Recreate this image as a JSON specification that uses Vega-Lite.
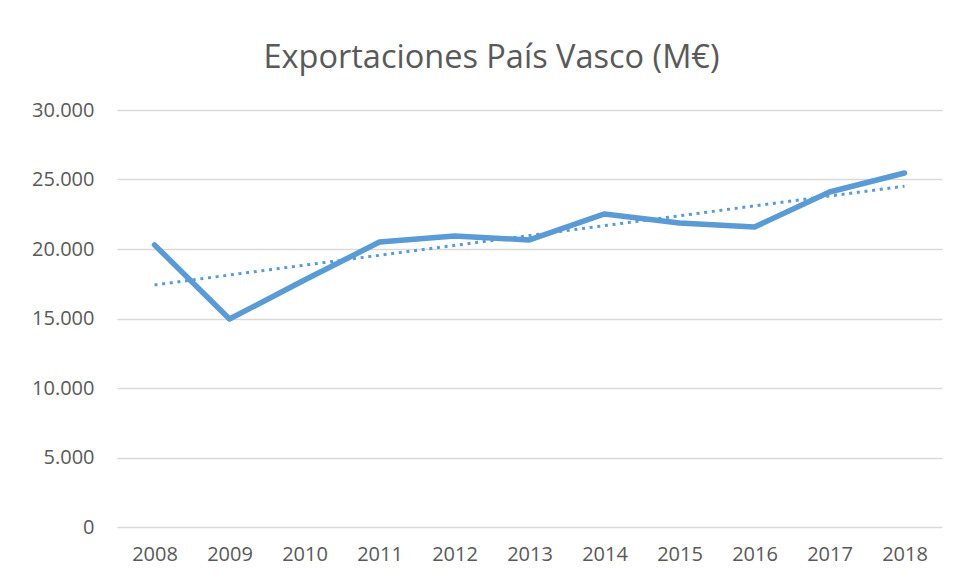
{
  "$schema": "https://vega.github.io/schema/vega-lite/v6.json",
  "autosize": {"type": "none"},
  "padding": {"left": 117, "top": 110, "right": 17, "bottom": 56},
  "width": 825,
  "height": 417,
  "background": "white",
  "title": {
    "text": "Exportaciones País Vasco (M€)",
    "font": "Open Sans",
    "fontSize": 32.5,
    "fontWeight": "normal",
    "color": "#595959",
    "anchor": "middle",
    "dx": -38,
    "offset": 26
  },
  "data": {
    "values": [
      {"year": "2008", "value": 20300},
      {"year": "2009", "value": 14960},
      {"year": "2010", "value": 17770},
      {"year": "2011", "value": 20500},
      {"year": "2012", "value": 20940},
      {"year": "2013", "value": 20650},
      {"year": "2014", "value": 22520},
      {"year": "2015", "value": 21870},
      {"year": "2016", "value": 21580},
      {"year": "2017", "value": 24100},
      {"year": "2018", "value": 25470}
    ]
  },
  "config": {
    "view": {"stroke": null},
    "axis": {
      "labelFont": "Open Sans",
      "labelFontSize": 20,
      "labelColor": "#595959",
      "domain": false,
      "ticks": false,
      "title": null
    }
  },
  "layer": [
    {
      "mark": {"type": "line", "color": "#5B9BD5", "strokeWidth": 5.5, "strokeCap": "round", "strokeJoin": "round"},
      "encoding": {
        "x": {
          "field": "year", "type": "ordinal",
          "scale": {"type": "point", "padding": 0.5},
          "axis": {"labelAngle": 0, "labelPadding": 17, "grid": false}
        },
        "y": {
          "field": "value", "type": "quantitative",
          "scale": {"domain": [0, 30000], "nice": false},
          "axis": {
            "values": [0, 5000, 10000, 15000, 20000, 25000, 30000],
            "labelExpr": "replace(format(datum.value, ','), ',', '.')",
            "labelPadding": 23,
            "grid": true,
            "gridColor": "#D9D9D9",
            "gridWidth": 1.5
          }
        }
      }
    },
    {
      "transform": [
        {"calculate": "toNumber(datum.year)", "as": "yr"},
        {"regression": "value", "on": "yr", "method": "linear", "extent": [2008, 2018]},
        {"calculate": "toString(round(datum.yr))", "as": "year"}
      ],
      "mark": {"type": "line", "color": "#5B9BD5", "strokeWidth": 3, "strokeDash": [3, 4.7]},
      "encoding": {
        "x": {"field": "year", "type": "ordinal"},
        "y": {"field": "value", "type": "quantitative"}
      }
    }
  ]
}
